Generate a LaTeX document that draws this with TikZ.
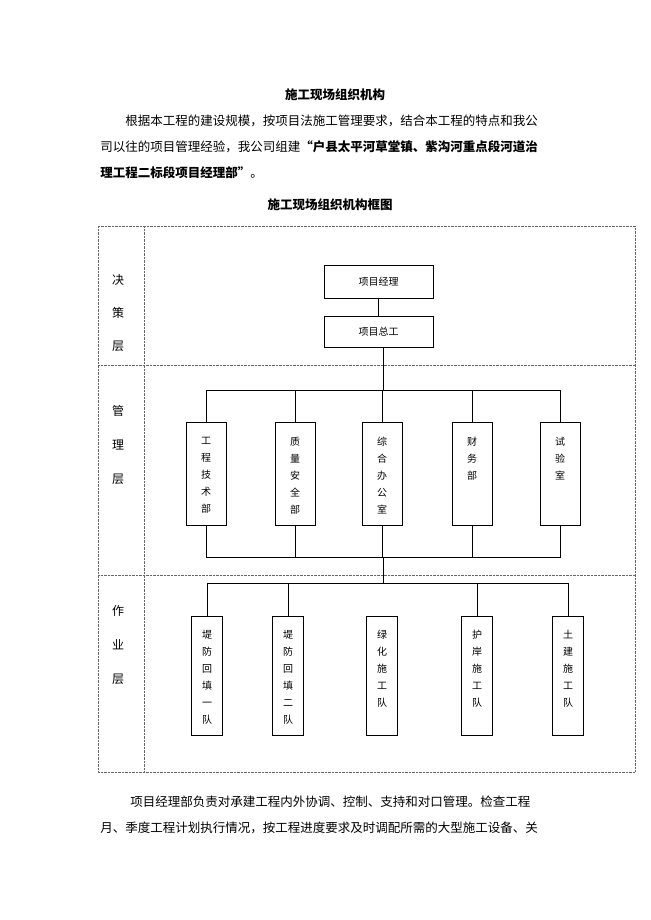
\documentclass[tikz,border=0pt]{standalone}
\usepackage{fontspec}
\newfontfamily\cjk{Noto Sans CJK SC}
\usetikzlibrary{positioning}
\tikzset{
  unitbox/.style={rectangle, draw=black, thick, minimum width=109pt, minimum height=33pt, text centered, font=\cjk\fontsize{10}{12}\selectfont},
  deptbox/.style={rectangle, draw=black, thick, minimum width=40pt, minimum height=103pt, align=center, font=\cjk\fontsize{10}{17}\selectfont},
  teambox/.style={rectangle, draw=black, thick, minimum width=31pt, minimum height=119pt, align=center, font=\cjk\fontsize{10}{17}\selectfont},
  layer/.style={font=\cjk\fontsize{12}{14}\selectfont},
  bodytext/.style={font=\cjk\fontsize{12.5}{14}\selectfont, anchor=west, inner sep=0pt},
  frame/.style={draw=black!60, densely dotted, thin}
}
\begin{document}
\begin{tikzpicture}[x=1pt, y=-1pt, thick]
  \useasboundingbox (0,0) rectangle (650,920);
  % texts
  \node[font=\cjk\bfseries\fontsize{12.5}{14}\selectfont] (title) at (335,95) {施工现场组织机构};
  \node[bodytext] (para1) at (125,121) {根据本工程的建设规模，按项目法施工管理要求，结合本工程的特点和我公};
  \node[bodytext] (para2) at (100,147) {司以往的项目管理经验，我公司组建\textbf{“户县太平河草堂镇、紫沟河重点段河道治}};
  \node[bodytext] (para3) at (100,173) {\textbf{理工程二标段项目经理部”}。};
  \node[font=\cjk\bfseries\fontsize{12.5}{14}\selectfont] (caption) at (330,205) {施工现场组织机构框图};
  % frame
  \draw[frame] (98,226) rectangle (635,772);
  \draw[frame] (144,226) -- (144,772);
  \draw[frame] (98,365) -- (635,365);
  \draw[frame] (98,575) -- (635,575);
  \node[layer, align=center, font=\cjk\fontsize{12}{33}\selectfont] (lay1) at (118,313) {决\\策\\层};
  \node[layer, align=center, font=\cjk\fontsize{12}{34}\selectfont] (lay2) at (118,445) {管\\理\\层};
  \node[layer, align=center, font=\cjk\fontsize{12}{34}\selectfont] (lay3) at (118,645) {作\\业\\层};
  % decision
  \node[unitbox] (pm) at (378.5,282) {项目经理};
  \node[unitbox, minimum height=31pt] (chief) at (378.5,332) {项目总工};
  \draw (pm) -- (chief);
  \coordinate (bus1) at (383,390);
  \draw (383,348) -- (bus1);
  % departments
  \foreach \x/\n/\t in {206/tech/工\\程\\技\\术\\部, 295/qual/质\\量\\安\\全\\部, 382/office/综\\合\\办\\公\\室, 472/fin/财\\务\\部, 560/lab/试\\验\\室}{
    \node[deptbox, anchor=north, text depth=0pt] (\n) at (\x,422) {};
    \node[deptbox, draw=none, anchor=north, minimum height=0pt, inner sep=0pt] at (\x,437) {\t};
  }
  \draw (tech.north) |- (lab.north |- bus1) -- (lab.north);
  \foreach \n in {qual,office,fin}{ \draw (\n.north) -- (\n.north |- bus1); }
  \coordinate (bus2) at (383,557);
  \draw (tech.south) |- (lab.south |- bus2) -- (lab.south);
  \foreach \n in {qual,office,fin}{ \draw (\n.south) -- (\n.south |- bus2); }
  % teams
  \coordinate (bus3) at (383,583);
  \draw (bus2) -- (bus3);
  \foreach \x/\n/\t in {207/teamA/堤\\防\\回\\填\\一\\队, 288/teamB/堤\\防\\回\\填\\二\\队, 382/teamC/绿\\化\\施\\工\\队, 477/teamD/护\\岸\\施\\工\\队, 568/teamE/土\\建\\施\\工\\队}{
    \node[teambox, anchor=north] (\n) at (\x,616) {};
    \node[teambox, draw=none, anchor=north, minimum height=0pt, inner sep=0pt] at (\x,630) {\t};
  }
  \draw (teamA.north) |- (teamE.north |- bus3) -- (teamE.north);
  \foreach \n in {teamB,teamD}{ \draw (\n.north) -- (\n.north |- bus3); }
  % closing text
  \node[bodytext] (para4) at (130,802) {项目经理部负责对承建工程内外协调、控制、支持和对口管理。检查工程};
  \node[bodytext] (para5) at (100,828) {月、季度工程计划执行情况，按工程进度要求及时调配所需的大型施工设备、关};
\end{tikzpicture}
\end{document}
